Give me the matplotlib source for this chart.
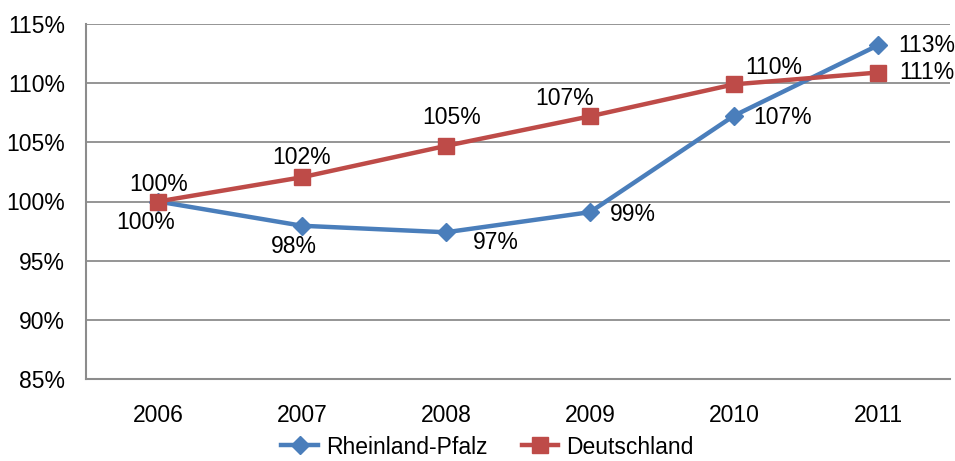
import matplotlib
matplotlib.use("Agg")
import matplotlib.pyplot as plt
from matplotlib.ticker import FuncFormatter

years = ["2006", "2007", "2008", "2009", "2010", "2011"]
rlp = [100.0, 97.95, 97.4, 99.1, 107.25, 113.2]
de = [100.0, 102.05, 104.7, 107.2, 109.9, 110.9]
rlp_labels = ["100%", "98%", "97%", "99%", "107%", "113%"]
de_labels = ["100%", "102%", "105%", "107%", "110%", "111%"]
series_names = ["Rheinland-Pfalz", "Deutschland"]

plt.rcParams['font.family'] = ['Liberation Sans', 'DejaVu Sans']
blue = "#4A7EBB"
red = "#BE4B48"
grid_c = "#8C8C8C"
fs = 16.5

fig = plt.figure(figsize=(9.55, 4.61), dpi=100)
ax = fig.add_axes([86/955, 1-379/461, (950-86)/955, (379-24)/461])

x = list(range(len(years)))
ax.plot(x, rlp, color=blue, lw=3.2, marker='D', ms=9.5, label=series_names[0], zorder=3)
ax.plot(x, de, color=red, lw=3.2, marker='s', ms=11, label=series_names[1], zorder=4)

ax.set_xlim(-0.5, 5.5)
ax.set_ylim(85, 115)
ax.set_yticks(range(85, 116, 5))
ax.yaxis.set_major_formatter(FuncFormatter(lambda v, p: f"{v:.0f}%"))
ax.set_xticks(x)
ax.set_xticklabels(years)
ax.tick_params(axis='both', length=0, labelsize=fs)
ax.tick_params(axis='y', pad=15)
ax.tick_params(axis='x', pad=18)
ax.grid(axis='y', color=grid_c, lw=1.3, zorder=0)
for s in ['top', 'right']:
    ax.spines[s].set_visible(False)
for s in ['left', 'bottom']:
    ax.spines[s].set_color(grid_c)
    ax.spines[s].set_linewidth(1.5)

# label offsets in pixels (dx right, dy down)
rlp_off = [(-12, 21), (-8, 21), (50, 10), (43, 2), (49, 2), (49, 0)]
de_off = [(1, -17), (0, -20), (6, -28), (-25, -18), (40, -17), (49, 0)]
for i in x:
    dx, dy = rlp_off[i]
    ax.annotate(rlp_labels[i], (i, rlp[i]), xytext=(dx*0.72, -dy*0.72), textcoords='offset points',
                ha='center', va='center', fontsize=fs, zorder=5)
    dx, dy = de_off[i]
    ax.annotate(de_labels[i], (i, de[i]), xytext=(dx*0.72, -dy*0.72), textcoords='offset points',
                ha='center', va='center', fontsize=fs, zorder=5)

leg = fig.legend(loc='center', bbox_to_anchor=(0.5 + 10/955, 1-447/461), ncol=2, frameon=False,
                 fontsize=fs, handlelength=1.6, handletextpad=0.35, columnspacing=1.5)

fig.savefig("out.png", dpi=100)
